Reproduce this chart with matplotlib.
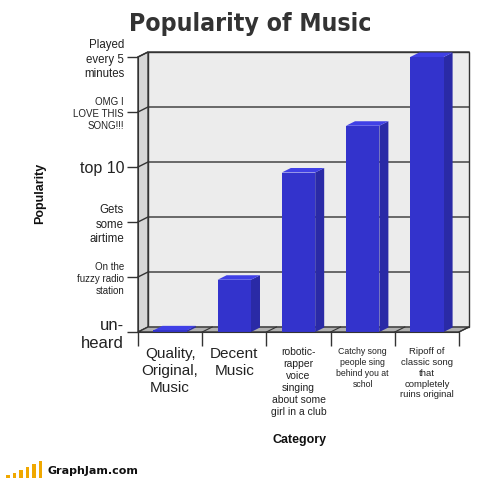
import matplotlib
matplotlib.use("Agg")
import matplotlib.pyplot as plt
from matplotlib import font_manager as fm
from matplotlib.patches import Polygon, Rectangle

categories = ["Quality,\nOriginal,\nMusic", "Decent\nMusic",
              "robotic-\nrapper\nvoice\nsinging\nabout some\ngirl in a club",
              "Catchy song\npeople sing\nbehind you at\nschol",
              "Ripoff of\nclassic song\nthat\ncompletely\nruins original"]
cat_sizes = [11, 11, 7.5, 6.3, 6.8]
values = [0.03, 0.95, 2.9, 3.75, 5.0]
ytick_labels = ["un-\nheard", "On the\nfuzzy radio\nstation", "Gets\nsome\nairtime",
                "top 10", "OMG I\nLOVE THIS\nSONG!!!", "Played\nevery 5\nminutes"]
ytick_sizes = [12, 7, 8.3, 11.5, 7, 8.3]
logo_heights = [3, 5, 8, 11, 14, 17]

plt.rcParams['font.family'] = ['Liberation Sans', 'DejaVu Sans']

# pick a condensed bold face for the title if one is installed
cond = [f for f in fm.fontManager.ttflist
        if ('Condensed' in f.name or 'Narrow' in f.name or
            f.stretch in ('condensed', 'semi-condensed', 'extra-condensed', 300))
        and f.weight in ('bold', 700, 'heavy', 800, 'black', 900)]
if cond:
    title_fp = fm.FontProperties(fname=cond[0].fname, size=17.8)
else:
    title_fp = fm.FontProperties(family=["Liberation Sans", "DejaVu Sans"], weight="bold", size=19)

fig = plt.figure(figsize=(5.04, 4.79), dpi=100)
W, H = 504, 479
x0p, x1p, y0p, y1p = 138, 459, 332, 57
ax = fig.add_axes([x0p / W, (H - y0p) / H, (x1p - x0p) / W, (y0p - y1p) / H])
n = len(categories)
ymax = 5
ax.set_xlim(0, n)
ax.set_ylim(0, ymax)

# depth offsets in data units
dx = 10 / ((x1p - x0p) / n)
dy = 5 / ((y0p - y1p) / ymax)
edge = "#333333"

# back wall
ax.add_patch(Polygon([(dx, dy), (n + dx, dy), (n + dx, ymax + dy), (dx, ymax + dy)],
                     closed=True, facecolor="#ececec", edgecolor=edge, lw=1.0, clip_on=False, zorder=1))
# left wall
ax.add_patch(Polygon([(0, 0), (dx, dy), (dx, ymax + dy), (0, ymax)],
                     closed=True, facecolor="#d6d6d6", edgecolor=edge, lw=1.0, clip_on=False, zorder=1))
# floor
ax.add_patch(Polygon([(0, 0), (n, 0), (n + dx, dy), (dx, dy)],
                     closed=True, facecolor="#b0b0b0", edgecolor=edge, lw=1.0, clip_on=False, zorder=1))
# grid lines
for k in range(1, ymax + 1):
    ax.plot([0, dx, n + dx], [k, k + dy, k + dy], color=edge, lw=1.0, clip_on=False, zorder=2)
for i in range(1, n + 1):
    ax.plot([i, i + dx], [0, dy], color=edge, lw=0.8, clip_on=False, zorder=2)

# bars
bw = 0.52
bdx = 9 / ((x1p - x0p) / n)
bdy = 4.5 / ((y0p - y1p) / ymax)
for i, v in enumerate(values):
    xl = i + 0.5 - bw / 2
    xr = i + 0.5 + bw / 2
    front = "#3333cc"
    side = "#2a2aa6"
    top = "#4040e6"
    ax.add_patch(Polygon([(xr, 0), (xr + bdx, bdy), (xr + bdx, v + bdy), (xr, v)],
                         closed=True, facecolor=side, edgecolor="none", clip_on=False, zorder=3))
    ax.add_patch(Polygon([(xl, v), (xr, v), (xr + bdx, v + bdy), (xl + bdx, v + bdy)],
                         closed=True, facecolor=top, edgecolor="none", clip_on=False, zorder=3))
    ax.add_patch(Rectangle((xl, 0), bw, v, facecolor=front, edgecolor="none", clip_on=False, zorder=4))

for s in ["top", "right"]:
    ax.spines[s].set_visible(False)
for s in ["left", "bottom"]:
    ax.spines[s].set_color(edge)
    ax.spines[s].set_zorder(5)

ax.set_yticks(range(ymax + 1))
ax.set_yticklabels(ytick_labels)
for t, s in zip(ax.get_yticklabels(), ytick_sizes):
    t.set_fontsize(s)
    t.set_color("#222222")
    t.set_linespacing(1.25)
ax.tick_params(axis="y", length=8, width=1, color=edge, pad=2)

ax.set_xticks(range(n + 1))
ax.set_xticklabels([])
ax.tick_params(axis="x", which="major", length=10, width=1, color=edge)
ax.set_xticks([i + 0.5 for i in range(n)], minor=True)
ax.set_xticklabels(categories, minor=True)
ax.tick_params(axis="x", which="minor", length=0, pad=11)
for t, s in zip(ax.get_xticklabels(minor=True), cat_sizes):
    t.set_fontsize(s)
    t.set_color("#222222")
    t.set_linespacing(1.25)
    t.set_verticalalignment("top")

fig.text(250 / W, 1 - 31 / H, "Popularity of Music", ha="center", va="baseline",
         fontproperties=title_fp, color="#333333")
fig.text(40 / W, 1 - 193 / H, "Popularity", rotation=90, ha="center", va="center",
         fontsize=9, fontweight="bold", color="#111111")
fig.text(300 / W, 1 - 440 / H, "Category", ha="center", va="center",
         fontsize=9, fontweight="bold", color="#111111")

# logo
for j, h in enumerate(logo_heights):
    fig.add_artist(Rectangle(((6 + j * 6.5) / W, (H - 478) / H), 3.5 / W, h / H,
                             facecolor="#f0a800", edgecolor="none", transform=fig.transFigure))
fig.text(48 / W, 1 - 471 / H, "GraphJam.com", ha="left", va="center",
         fontsize=8, fontweight="bold", color="#111111", family=["DejaVu Sans"])

fig.savefig("out.png", dpi=100)
